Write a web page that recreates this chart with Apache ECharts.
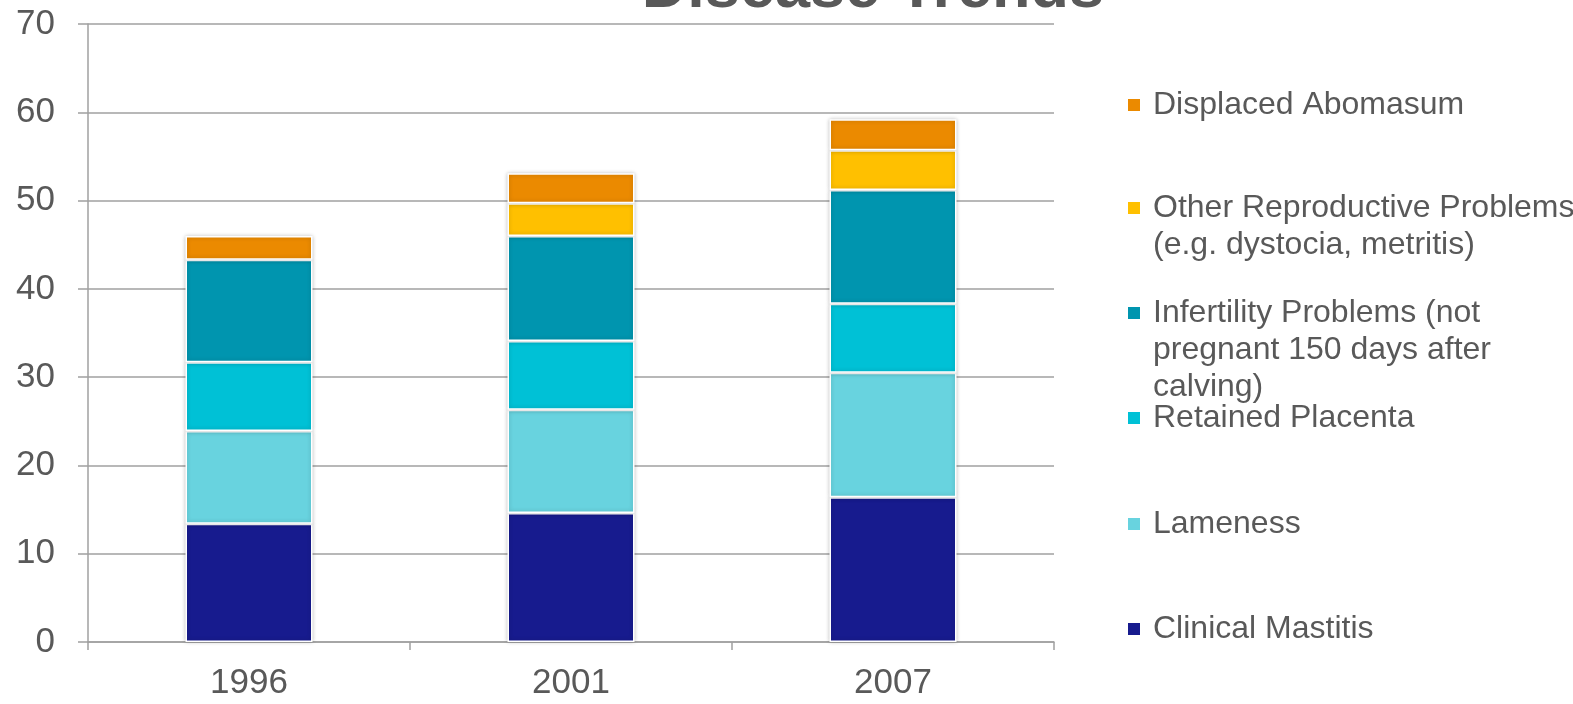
<!DOCTYPE html>
<html>
<head>
<meta charset="utf-8">
<script src="https://cdn.jsdelivr.net/npm/echarts@6/dist/echarts.min.js"></script>
<style>
html,body{margin:0;padding:0;background:#fff;}
#chart{width:1573px;height:704px;}
</style>
</head>
<body>
<div id="chart"></div>
<script>
// ---- data ----
const title = 'Disease Trends';
const categories = ['1996', '2001', '2007'];
const seriesNames = [
  'Clinical Mastitis',
  'Lameness',
  'Retained Placenta',
  'Infertility Problems (not\npregnant 150 days after\ncalving)',
  'Other Reproductive Problems\n(e.g. dystocia, metritis)',
  'Displaced Abomasum'
];
const clinicalMastitis = [13.4, 14.6, 16.4];
const lameness = [10.5, 11.7, 14.1];
const retainedPlacenta = [7.8, 7.8, 7.8];
const infertility = [11.6, 11.9, 12.9];
const otherReproductive = [null, 3.7, 4.5];
const displacedAbomasum = [2.7, 3.4, 3.5];
const yMin = 0, yMax = 70, yInterval = 10;

// ---- styles ----
const colors = ['#171B8E', '#68D3DF', '#00C1D6', '#0095AF', '#FFC000', '#EB8A00'];
const values = [clinicalMastitis, lameness, retainedPlacenta, infertility, otherReproductive, displacedAbomasum];
const FONT = "'Liberation Sans', Arial, sans-serif";
const textColor = '#595959';
const lineColor = '#a0a0a0';

const series = seriesNames.map((name, i) => ({
  name: name,
  type: 'bar',
  stack: 'total',
  barWidth: 127,
  data: values[i].map(v => v == null ? '-' : v),
  itemStyle: {
    color: colors[i],
    borderColor: '#ffffff',
    borderWidth: 1.5,
    shadowBlur: 4,
    shadowColor: 'rgba(0,0,0,0.22)'
  },
  emphasis: { disabled: true }
}));

// legend: one component per entry, marker aligned with first text line
const legendCenters = [629, 524, 418, 313, 208, 105]; // marker centres, series order
const lh = 37;
const sq = 12;
const iconW = 20;
const legends = seriesNames.map((name, i) => {
  const n = name.split('\n').length;
  const H = sq + (n - 1) * lh;
  const icon = 'path://M0,0L' + sq + ',0L' + sq + ',' + sq + 'L0,' + sq + 'Z' +
               'M' + iconW + ',' + H + 'L' + (iconW - 0.01) + ',' + H + 'Z';
  return {
    data: [{ name: name, icon: icon }],
    left: 1128,
    top: legendCenters[i] - lh / 2,
    orient: 'vertical',
    padding: 0,
    itemWidth: iconW,
    itemHeight: H,
    selectedMode: false,
    itemStyle: { borderWidth: 0, shadowBlur: 0 },
    textStyle: {
      fontFamily: FONT,
      fontSize: 32,
      color: textColor,
      lineHeight: lh
    }
  };
});

const chart = echarts.init(document.getElementById('chart'), null, { renderer: 'canvas' });
chart.setOption({
  animation: false,
  backgroundColor: '#ffffff',
  color: colors,
  graphic: [{
    type: 'text',
    x: 873,
    y: -10,
    style: {
      text: title,
      font: "bold 63px 'Liberation Sans', Arial, sans-serif",
      fill: textColor,
      align: 'center',
      verticalAlign: 'middle'
    }
  }],
  legend: legends,
  grid: { left: 88, right: 519, top: 24, bottom: 62, containLabel: false },
  xAxis: {
    type: 'category',
    data: categories,
    boundaryGap: true,
    axisLine: { show: true, lineStyle: { color: lineColor, width: 1.5 } },
    axisTick: { show: true, length: 8, alignWithLabel: false, lineStyle: { color: lineColor, width: 1.5 } },
    axisLabel: { fontFamily: FONT, fontSize: 35, color: textColor, margin: 24 },
    splitLine: { show: false }
  },
  yAxis: {
    type: 'value',
    min: yMin,
    max: yMax,
    interval: yInterval,
    axisLine: { show: true, lineStyle: { color: lineColor, width: 1.5 } },
    axisTick: { show: true, length: 10, lineStyle: { color: lineColor, width: 1.5 } },
    axisLabel: { fontFamily: FONT, fontSize: 35, color: textColor, margin: 33 },
    splitLine: { show: true, lineStyle: { color: lineColor, width: 1.5 } }
  },
  series: series
});
</script>
</body>
</html>
